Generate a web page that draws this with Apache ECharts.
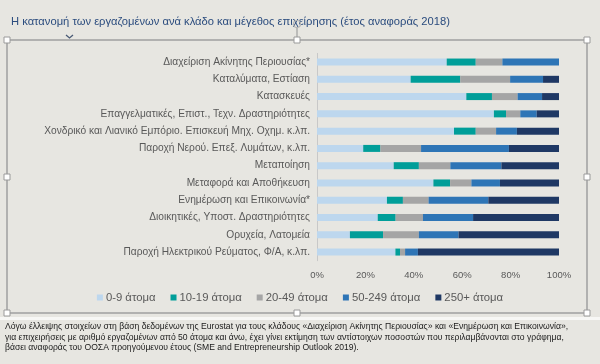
<!DOCTYPE html>
<html><head><meta charset="utf-8">
<script src="https://cdn.jsdelivr.net/npm/echarts@6/dist/echarts.min.js"></script>
<style>html,body{margin:0;padding:0;background:#E7E6E1;}#c{width:600px;height:364px;}</style>
</head><body><div id="c"></div>
<script>
const categories = [
  "Διαχείριση Ακίνητης Περιουσίας*",
  "Καταλύματα, Εστίαση",
  "Κατασκευές",
  "Επαγγελματικές, Επιστ., Τεχν. Δραστηριότητες",
  "Χονδρικό και Λιανικό Εμπόριο. Επισκευή Μηχ. Οχημ. κ.λπ.",
  "Παροχή Νερού. Επεξ. Λυμάτων, κ.λπ.",
  "Μεταποίηση",
  "Μεταφορά και Αποθήκευση",
  "Ενημέρωση και Επικοινωνία*",
  "Διοικητικές, Υποστ. Δραστηριότητες",
  "Ορυχεία, Λατομεία",
  "Παροχή Ηλεκτρικού Ρεύματος, Φ/Α, κ.λπ."
];
const seriesNames = ["0-9 άτομα", "10-19 άτομα", "20-49 άτομα", "50-249 άτομα", "250+ άτομα"];
const s0_9    = [53.6, 38.7, 61.7, 73.1, 56.6, 19.1, 31.7, 48.1, 28.9, 25.1, 13.6, 32.4];
const s10_19  = [12.0, 20.5, 10.6,  5.0,  9.0,  7.1, 10.4,  6.9,  6.6,  7.4, 13.7,  1.9];
const s20_49  = [11.0, 20.6, 10.6,  5.9,  8.4, 16.8, 13.0,  8.8, 10.6, 11.3, 14.8,  2.1];
const s50_249 = [23.4, 13.6, 10.1,  6.8,  8.6, 36.3, 21.1, 11.8, 24.7, 20.7, 16.4,  5.3];
const s250    = [ 0.0,  6.6,  7.0,  9.2, 17.4, 20.7, 23.8, 24.4, 29.2, 35.5, 41.5, 58.3];
const xTicks = [0, 20, 40, 60, 80, 100];
const titleText = "Η κατανομή των εργαζομένων ανά κλάδο και μέγεθος επιχείρησης (έτος αναφοράς 2018)";
const noteLines = [
  "Λόγω έλλειψης στοιχείων στη βάση δεδομένων της Eurostat για τους κλάδους «Διαχείριση Ακίνητης Περιουσίας» και «Ενημέρωση και Επικοινωνία»,",
  "για επιχειρήσεις με αριθμό εργαζομένων από 50 άτομα και άνω, έχει γίνει εκτίμηση των αντίστοιχων ποσοστών που περιλαμβάνονται στο γράφημα,",
  "βάσει αναφοράς του ΟΟΣΑ προηγούμενου έτους (SME and Entrepreneurship Outlook 2019)."
];
const colors = ["#BDD7EE", "#009E99", "#A5A5A5", "#2E75B6", "#1F3864"];
const allData = [s0_9, s10_19, s20_49, s50_249, s250];

const chart = echarts.init(document.getElementById('c'), null, {renderer: 'canvas'});
const FONT = 'Liberation Sans, Arial, sans-serif';
const frameColor = '#A0A0A0';
function handle(x, y) {
  return {type: 'rect', shape: {x: x - 3, y: y - 3, width: 6, height: 6},
    style: {fill: '#ffffff', stroke: '#9a9a9a', lineWidth: 1}, z: 20};
}
const L = 7, R = 587, T = 40, B = 313, MX = 297, MY = 177;
const graphics = [
  {type: 'rect', shape: {x: L, y: T, width: R - L, height: B - T}, style: {fill: 'none', stroke: frameColor, lineWidth: 1.5}, z: 10},
  {type: 'line', shape: {x1: MX, y1: 27, x2: MX, y2: T}, style: {stroke: frameColor, lineWidth: 1.2}, z: 10},
  {type: 'circle', shape: {cx: MX, cy: 24, r: 3.5}, style: {fill: 'none', stroke: '#b5b5b5', lineWidth: 1.2}, z: 10},
  {type: 'polyline', shape: {points: [[66, 35], [69.5, 38], [73, 35]]}, style: {stroke: '#4a5a75', lineWidth: 1.3, fill: 'none'}, z: 10},
  handle(L, T), handle(MX, T), handle(R, T), handle(L, MY), handle(R, MY), handle(L, B), handle(MX, B), handle(R, B),
  {type: 'rect', shape: {x: 0, y: 317, width: 600, height: 3}, style: {fill: '#F7F7F5'}, z: 5}
];
noteLines.forEach((t, i) => {
  graphics.push({type: 'text', left: 5, top: 322 + i * 10.8,
    style: {text: t, fill: '#1a1a1a', font: '8.6px ' + FONT}, z: 10});
});

chart.setOption({
  backgroundColor: '#E7E6E1',
  animation: false,
  title: {text: titleText, left: 6, top: 11,
    textStyle: {color: '#2B4C7E', fontSize: 11.2, fontWeight: 'normal', fontFamily: FONT}},
  legend: {
    data: seriesNames, bottom: 56, left: 'center', itemWidth: 6, itemHeight: 6, itemGap: 15,
    icon: 'rect', textStyle: {color: '#595959', fontSize: 11.3, fontFamily: FONT, padding: [0, 0, 0, -2]}
  },
  grid: {left: 317, right: 41, top: 53.4, bottom: 103.3, containLabel: false},
  xAxis: {
    type: 'value', min: 0, max: 100, interval: 20,
    axisLabel: {formatter: v => xTicks.includes(v) ? v + '%' : '', color: '#595959', fontSize: 9.5, fontFamily: FONT, margin: 10},
    splitLine: {show: false}, axisLine: {show: false}, axisTick: {show: false}
  },
  yAxis: {
    type: 'category', data: categories, inverse: true,
    axisLine: {show: true, lineStyle: {color: '#C8C8C8'}}, axisTick: {show: false},
    axisLabel: {color: '#595959', fontSize: 10.2, fontFamily: FONT, margin: 7}
  },
  series: seriesNames.map((n, i) => ({
    name: n, type: 'bar', stack: 'all', data: allData[i], barWidth: 7,
    itemStyle: {color: colors[i]}
  })),
  graphic: graphics
});
</script></body></html>
